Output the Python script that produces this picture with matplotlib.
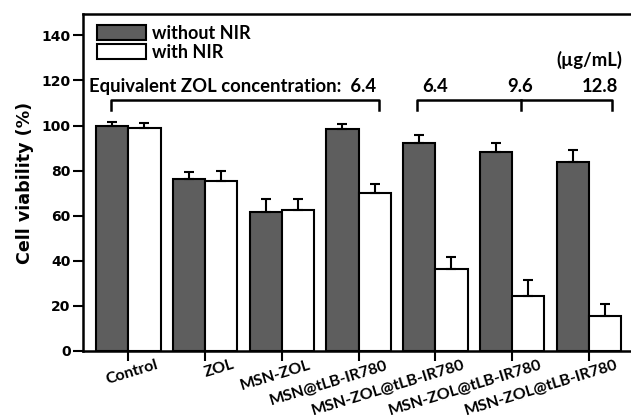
import numpy as np
import matplotlib.pyplot as plt

groups = ['Control', 'ZOL', 'MSN-ZOL', 'MSN@tLB-IR780',
          'MSN-ZOL@tLB-IR780', 'MSN-ZOL@tLB-IR780', 'MSN-ZOL@tLB-IR780']
without_nir = [100.0, 76.3, 61.8, 98.3, 92.1, 88.2, 83.8]
without_err = [1.8, 3.2, 5.5, 2.2, 3.8, 4.2, 5.3]
with_nir = [98.8, 75.4, 62.5, 69.9, 36.2, 24.5, 15.5]
with_err = [2.5, 4.4, 5.0, 4.0, 5.6, 7.0, 5.3]
conc_labels = ['6.4', '9.6', '12.8']

DARK = '#5e5e5e'
ANNOT_FONT = 'Lato'
TICK_FONT = 'DejaVu Sans'

fig = plt.figure(figsize=(6.31, 4.17), dpi=100)
ax = fig.add_axes([83/631, 66/417, 548/631, 337/417])

N = len(groups)
x = np.arange(N)
width = 0.42

zeros = np.zeros(N)
ekw = dict(ecolor='k', elinewidth=1.5, capsize=3.5, capthick=1.5)
b1 = ax.bar(x - width/2, without_nir, width, color=DARK, edgecolor='k', linewidth=1.5,
            yerr=[zeros, without_err], error_kw=ekw, label='without NIR', zorder=2)
b2 = ax.bar(x + width/2, with_nir, width, color='white', edgecolor='k', linewidth=1.5,
            yerr=[zeros, with_err], error_kw=ekw, label='with NIR', zorder=2)

ax.set_xlim(-0.59, 6.55)
ax.set_ylim(0, 149.5)
ax.set_yticks(np.arange(0, 141, 20))
# tick marks on the groups, labels on slightly shifted minor ticks
ax.set_xticks(x)
ax.set_xticklabels([])
ax.set_xticks(x + 0.35, minor=True)
ax.set_xticklabels(groups, minor=True, rotation=17, ha='right', rotation_mode='anchor',
                   fontsize=11.5, fontweight='bold', family=ANNOT_FONT)
for lab in ax.get_yticklabels():
    lab.set_fontsize(10)
    lab.set_fontweight('bold')
    lab.set_family(TICK_FONT)

ax.tick_params(axis='both', direction='out', length=7, width=1.5)
ax.tick_params(axis='y', pad=2)
ax.tick_params(axis='x', which='minor', length=0, pad=5)
for s in ['left', 'bottom', 'top']:
    ax.spines[s].set_linewidth(1.8)
ax.spines['right'].set_visible(False)

ax.set_ylabel('Cell viability (%)', fontsize=12.6, fontweight='bold', family=TICK_FONT, labelpad=5)

# brackets for equivalent ZOL concentration
yb, yt = 106.9, 111.3
ax.plot([-0.22, -0.22, 3.27, 3.27], [yb, yt, yt, yb], color='k', lw=1.8, zorder=3)
ax.plot([3.76, 3.76, 6.30, 6.30], [yb, yt, yt, yb], color='k', lw=1.8, zorder=3)
ax.plot([5.12, 5.12], [yt, yb], color='k', lw=1.8, zorder=3)

ax.text(3.23, 115.0, 'Equivalent ZOL concentration:  ' + conc_labels[0], ha='right', va='baseline',
        fontsize=13.3, fontweight='bold', family=ANNOT_FONT)
for xc, t in zip([4.0, 5.1, 6.14], conc_labels):
    ax.text(xc, 115.0, t, ha='center', va='baseline', fontsize=13.3, fontweight='bold', family=ANNOT_FONT)
ax.text(6.44, 126.4, '(\u00b5g/mL)', ha='right', va='baseline', fontsize=13.3, fontweight='bold',
        family=ANNOT_FONT)

ax.legend(handles=[b1, b2], loc='upper left', bbox_to_anchor=(0.0255, 0.967), frameon=False,
          borderaxespad=0, borderpad=0, handlelength=2.72, handleheight=0.9,
          handletextpad=0.35, labelspacing=0.1,
          prop={'family': ANNOT_FONT, 'weight': 'bold', 'size': 13})

fig.savefig('out.png', dpi=100)
